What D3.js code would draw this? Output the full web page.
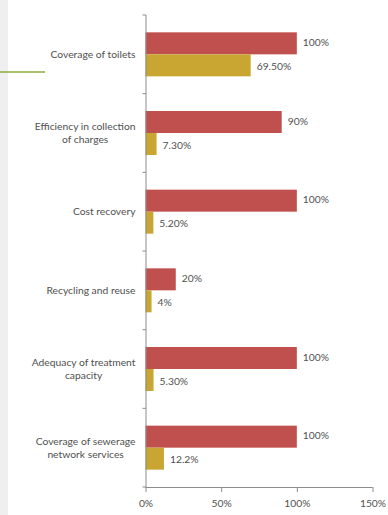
<!DOCTYPE html>
<html>
<head>
<meta charset="utf-8">
<script src="https://cdn.jsdelivr.net/npm/d3@7"></script>
<style>
html,body{margin:0;padding:0;background:#fff;}
svg{display:block;}
text{font-family:Lato,"Open Sans",sans-serif;fill:#505050;}
</style>
</head>
<body>
<svg id="chart" width="388" height="515"></svg>
<script>
const categories = [
  "Coverage of toilets",
  "Efficiency in collection\nof charges",
  "Cost recovery",
  "Recycling and reuse",
  "Adequacy of treatment\ncapacity",
  "Coverage of sewerage\nnetwork services"
];
const targetValues = [100, 90, 100, 20, 100, 100];
const actualValues = [69.5, 7.3, 5.2, 4, 5.3, 12.2];
const targetLabels = ["100%", "90%", "100%", "20%", "100%", "100%"];
const actualLabels = ["69.50%", "7.30%", "5.20%", "4%", "5.30%", "12.2%"];
const xTicks = [0, 50, 100, 150];
const seriesColors = ["#C0504D", "#C9A632"];

(function(){
const svg = d3.select("#chart");

// slide decoration
svg.append("rect").attr("x",0).attr("y",0).attr("width",8).attr("height",515).attr("fill","#efefef");
svg.append("line").attr("x1",0).attr("x2",45).attr("y1",72).attr("y2",72)
  .attr("stroke","#8fab3e").attr("stroke-width",1.6);

const mLeft = 145.5, mRight = 372.5, mTop = 15, mBottom = 487;
const x = d3.scaleLinear().domain([0,150]).range([mLeft,mRight]);
const y = d3.scaleBand().domain(categories).range([mTop,mBottom]);
const barH = 22;
const fs = 10.3;

const g = svg.append("g");
categories.forEach((c,i)=>{
  const cy = y(c) + y.bandwidth()/2;
  g.append("rect").attr("x",x(0)).attr("y",cy-barH).attr("width",x(targetValues[i])-x(0)).attr("height",barH).attr("fill",seriesColors[0]);
  g.append("rect").attr("x",x(0)).attr("y",cy).attr("width",x(actualValues[i])-x(0)).attr("height",barH).attr("fill",seriesColors[1]);
  g.append("text").attr("x",x(targetValues[i])+6).attr("y",cy-barH/2-1).attr("dy","0.35em")
    .attr("font-size",fs).text(targetLabels[i]);
  g.append("text").attr("x",x(actualValues[i])+6).attr("y",cy+barH/2+1).attr("dy","0.35em")
    .attr("font-size",fs).text(actualLabels[i]);
  const lines = c.split("\n");
  const t = g.append("text").attr("text-anchor","middle").attr("font-size",fs);
  const lh = 13.5;
  const spans = lines.map((ln,j)=>
    t.append("tspan").attr("y",cy + (j-(lines.length-1)/2)*lh).attr("dy","0.35em").text(ln));
  const w = d3.max(spans, s=>s.node().getComputedTextLength());
  spans.forEach(s=>s.attr("x", mLeft - 10 - w/2));
});

// y axis
const yAxis = d3.axisLeft(y).tickSize(0).tickFormat("");
const ya = svg.append("g").attr("transform",`translate(${mLeft},0)`).call(yAxis);
ya.select(".domain").attr("stroke","#8c8c8c").attr("d",`M0.5,${mTop}V${mBottom}`);
const bounds = categories.map(c=>y(c)).concat([mBottom]);
ya.selectAll(".bt").data(bounds).enter().append("line")
  .attr("x1",-3).attr("x2",0.5).attr("y1",d=>d).attr("y2",d=>d).attr("stroke","#8c8c8c");

// x axis
const xAxis = d3.axisBottom(x).tickValues(xTicks).tickFormat(d=>d+"%").tickSize(5).tickPadding(8);
const xa = svg.append("g").attr("transform",`translate(0,${mBottom})`).call(xAxis);
xa.select(".domain").attr("stroke","#8c8c8c").attr("d",`M${mLeft},0.5H${mRight}`);
xa.selectAll(".tick line").attr("stroke","#8c8c8c");
xa.selectAll(".tick text").attr("font-size",fs).attr("font-family","Lato,'Open Sans',sans-serif").attr("fill","#505050");
})();
</script>
</body>
</html>
